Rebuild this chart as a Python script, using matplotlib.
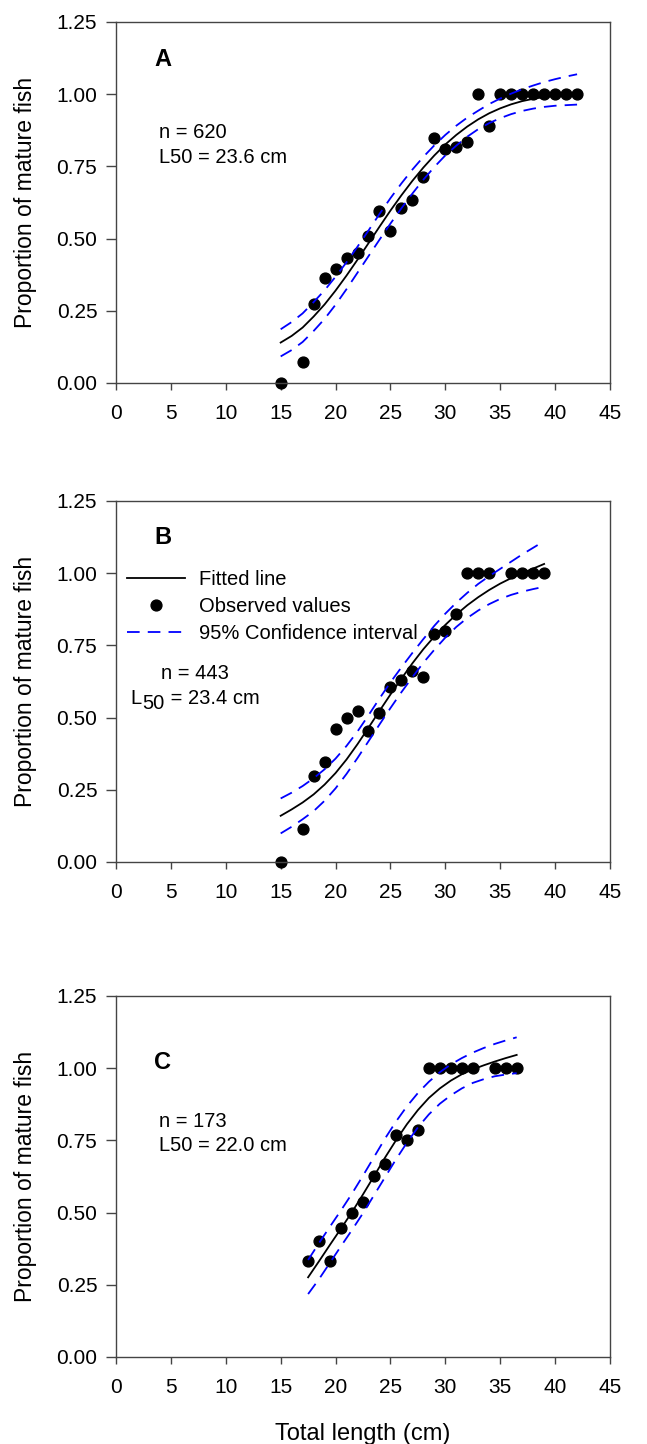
import numpy as np
import matplotlib
matplotlib.use('Agg')
import matplotlib.pyplot as plt
from matplotlib.ticker import FormatStrFormatter

plt.rcParams['font.family'] = ['Liberation Sans', 'DejaVu Sans']

# ---- Panel A ----
a_len = [15, 17, 18, 19, 20, 21, 22, 23, 24, 25, 26, 27, 28, 29, 30, 31, 32,
         33, 34, 35, 36, 37, 38, 39, 40, 41, 42]
a_obs = [0.0, 0.072, 0.275, 0.365, 0.393, 0.433, 0.450, 0.510, 0.595, 0.525,
         0.606, 0.632, 0.715, 0.848, 0.809, 0.818, 0.833, 1.0, 0.889, 1.0,
         1.0, 1.0, 1.0, 1.0, 1.0, 1.0, 1.0]
a_curve_len = list(range(15, 43))
a_fit = [0.140, 0.163, 0.192, 0.230, 0.272, 0.320, 0.372, 0.427, 0.484, 0.541,
         0.597, 0.650, 0.700, 0.746, 0.788, 0.826, 0.859, 0.888, 0.913, 0.934,
         0.951, 0.965, 0.976, 0.984, 0.990, 0.994, 0.997, 0.999]
a_upper = [0.186, 0.211, 0.241, 0.280, 0.321, 0.368, 0.418, 0.472, 0.528, 0.585,
           0.640, 0.691, 0.739, 0.783, 0.823, 0.859, 0.891, 0.919, 0.943, 0.966,
           0.985, 1.002, 1.017, 1.030, 1.042, 1.052, 1.061, 1.069]
a_lower = [0.092, 0.114, 0.142, 0.180, 0.222, 0.271, 0.325, 0.382, 0.439, 0.496,
           0.552, 0.605, 0.656, 0.704, 0.748, 0.788, 0.822, 0.853, 0.879, 0.900,
           0.917, 0.931, 0.942, 0.950, 0.956, 0.960, 0.962, 0.964]

# ---- Panel B ----
b_len = [15, 17, 18, 19, 20, 21, 22, 23, 24, 25, 26, 27, 28, 29, 30, 31, 32,
         33, 34, 36, 37, 38, 39]
b_obs = [0.0, 0.113, 0.297, 0.346, 0.462, 0.500, 0.523, 0.453, 0.517, 0.606,
         0.629, 0.661, 0.641, 0.790, 0.800, 0.857, 1.0, 1.0, 1.0, 1.0, 1.0,
         1.0, 1.0]
b_curve_len = list(range(15, 40))
b_fit = [0.160, 0.182, 0.206, 0.234, 0.268, 0.308, 0.355, 0.408, 0.465, 0.523,
         0.580, 0.635, 0.688, 0.737, 0.781, 0.821, 0.857, 0.889, 0.917, 0.942,
         0.964, 0.983, 1.000, 1.016, 1.032]
b_upper = [0.220, 0.240, 0.263, 0.290, 0.321, 0.358, 0.402, 0.452, 0.508, 0.566,
           0.622, 0.674, 0.724, 0.772, 0.818, 0.860, 0.898, 0.932, 0.963, 0.990,
           1.015, 1.040, 1.065, 1.088, 1.111]
b_lower = [0.099, 0.122, 0.148, 0.176, 0.212, 0.255, 0.305, 0.360, 0.418, 0.476,
           0.533, 0.588, 0.640, 0.690, 0.735, 0.777, 0.814, 0.845, 0.871, 0.893,
           0.911, 0.925, 0.936, 0.945, 0.953]

# ---- Panel C ----
c_len = [17.5, 18.5, 19.5, 20.5, 21.5, 22.5, 23.5, 24.5, 25.5, 26.5, 27.5,
         28.5, 29.5, 30.5, 31.5, 32.5, 34.5, 35.5, 36.5]
c_obs = [0.334, 0.401, 0.334, 0.446, 0.500, 0.535, 0.625, 0.667, 0.769, 0.752,
         0.785, 1.0, 1.0, 1.0, 1.0, 1.0, 1.0, 1.0, 1.0]
c_curve_len = [17.5, 18.5, 19.5, 20.5, 21.5, 22.5, 23.5, 24.5, 25.5, 26.5,
               27.5, 28.5, 29.5, 30.5, 31.5, 32.5, 33.5, 34.5, 35.5, 36.5]
c_fit = [0.276, 0.332, 0.389, 0.445, 0.502, 0.563, 0.626, 0.690, 0.750, 0.806,
         0.855, 0.897, 0.930, 0.957, 0.979, 0.996, 1.010, 1.023, 1.035, 1.046]
c_upper = [0.336, 0.395, 0.452, 0.508, 0.566, 0.628, 0.692, 0.756, 0.815, 0.868,
           0.914, 0.953, 0.986, 1.013, 1.035, 1.054, 1.070, 1.084, 1.096, 1.107]
c_lower = [0.218, 0.270, 0.327, 0.384, 0.440, 0.498, 0.560, 0.622, 0.684, 0.742,
           0.795, 0.840, 0.877, 0.906, 0.930, 0.949, 0.962, 0.972, 0.978, 0.983]

x_ticks = [0, 5, 10, 15, 20, 25, 30, 35, 40, 45]
y_ticks = [0.0, 0.25, 0.50, 0.75, 1.00, 1.25]

panels = [
    ('A', a_len, a_obs, a_curve_len, a_fit, a_upper, a_lower, 'n = 620', 'L50 = 23.6 cm'),
    ('B', b_len, b_obs, b_curve_len, b_fit, b_upper, b_lower, 'n = 443', None),
    ('C', c_len, c_obs, c_curve_len, c_fit, c_upper, c_lower, 'n = 173', 'L50 = 22.0 cm'),
]
bottoms = [0.73477, 0.40305, 0.06025]
FS = 14.5

fig = plt.figure(figsize=(6.47, 14.44), dpi=100)

for (letter, xl, yo, xc, fit, up, lo, ntxt, ltxt), bot in zip(panels, bottoms):
    ax = fig.add_axes([0.1793, bot, 0.7635, 0.25])
    ax.plot(xl, yo, 'o', color='black', markersize=7.8, zorder=2, clip_on=False,
            label='Observed values')
    ax.plot(xc, fit, '-', color='black', linewidth=1.3, zorder=3, label='Fitted line')
    ax.plot(xc, up, '--', color='#0000ff', linewidth=1.3, dashes=(7, 4.5), zorder=3,
            label='95% Confidence interval')
    ax.plot(xc, lo, '--', color='#0000ff', linewidth=1.3, dashes=(7, 4.5), zorder=3)

    ax.set_xlim(0, 45)
    ax.set_ylim(0, 1.25)
    ax.set_xticks(x_ticks)
    ax.set_yticks(y_ticks)
    ax.yaxis.set_major_formatter(FormatStrFormatter('%.2f'))
    ax.tick_params(axis='x', direction='out', length=5, width=1.0, pad=10,
                   labelsize=15, color='#444444')
    ax.tick_params(axis='y', direction='out', length=7.5, width=1.0, pad=6,
                   labelsize=15, color='#444444')
    for sp in ax.spines.values():
        sp.set_color('#444444')
        sp.set_linewidth(1.0)

    ax.set_ylabel('Proportion of mature fish', fontsize=16.5)
    ax.yaxis.set_label_coords(-0.160, 0.5)

    if letter == 'A':
        ax.text(0.077, 0.895, 'A', transform=ax.transAxes, fontsize=17,
                fontweight='bold', va='center', ha='left')
        ax.text(0.087, 0.6925, ntxt, transform=ax.transAxes, fontsize=FS, va='center')
        ax.text(0.087, 0.626, ltxt, transform=ax.transAxes, fontsize=FS, va='center')
    elif letter == 'B':
        ax.text(0.077, 0.8975, 'B', transform=ax.transAxes, fontsize=17,
                fontweight='bold', va='center', ha='left')
        ax.text(0.16, 0.5235, ntxt, transform=ax.transAxes, fontsize=FS,
                va='center', ha='center')
        # L with a full-size, lowered "50"
        t1 = ax.text(0.030, 0.4377, 'L', transform=ax.transAxes, fontsize=FS,
                     va='baseline', ha='left')
        t2 = ax.annotate('50', xy=(1, 0), xycoords=t1, xytext=(0.3, -3.8),
                         textcoords='offset points', fontsize=FS,
                         va='bottom', ha='left')
        ax.annotate(' = 23.4 cm', xy=(1, 0), xycoords=t2, xytext=(0, 3.8),
                    textcoords='offset points', fontsize=FS,
                    va='bottom', ha='left')
        handles, labels = ax.get_legend_handles_labels()
        order = [1, 0, 2]
        ax.legend([handles[i] for i in order], [labels[i] for i in order],
                  loc='upper left', bbox_to_anchor=(0.022, 0.81), frameon=False,
                  fontsize=FS, handlelength=2.9, handletextpad=0.7,
                  labelspacing=0.41, borderpad=0, borderaxespad=0)
    else:
        ax.text(0.077, 0.817, 'C', transform=ax.transAxes, fontsize=17,
                fontweight='bold', va='center', ha='left')
        ax.text(0.087, 0.651, ntxt, transform=ax.transAxes, fontsize=FS, va='center')
        ax.text(0.087, 0.5845, ltxt, transform=ax.transAxes, fontsize=FS, va='center')

fig.text(0.561, 0.0028, 'Total length (cm)', fontsize=17, ha='center', va='baseline')

fig.savefig('out.png', dpi=100, facecolor='white')
plt.close(fig)
